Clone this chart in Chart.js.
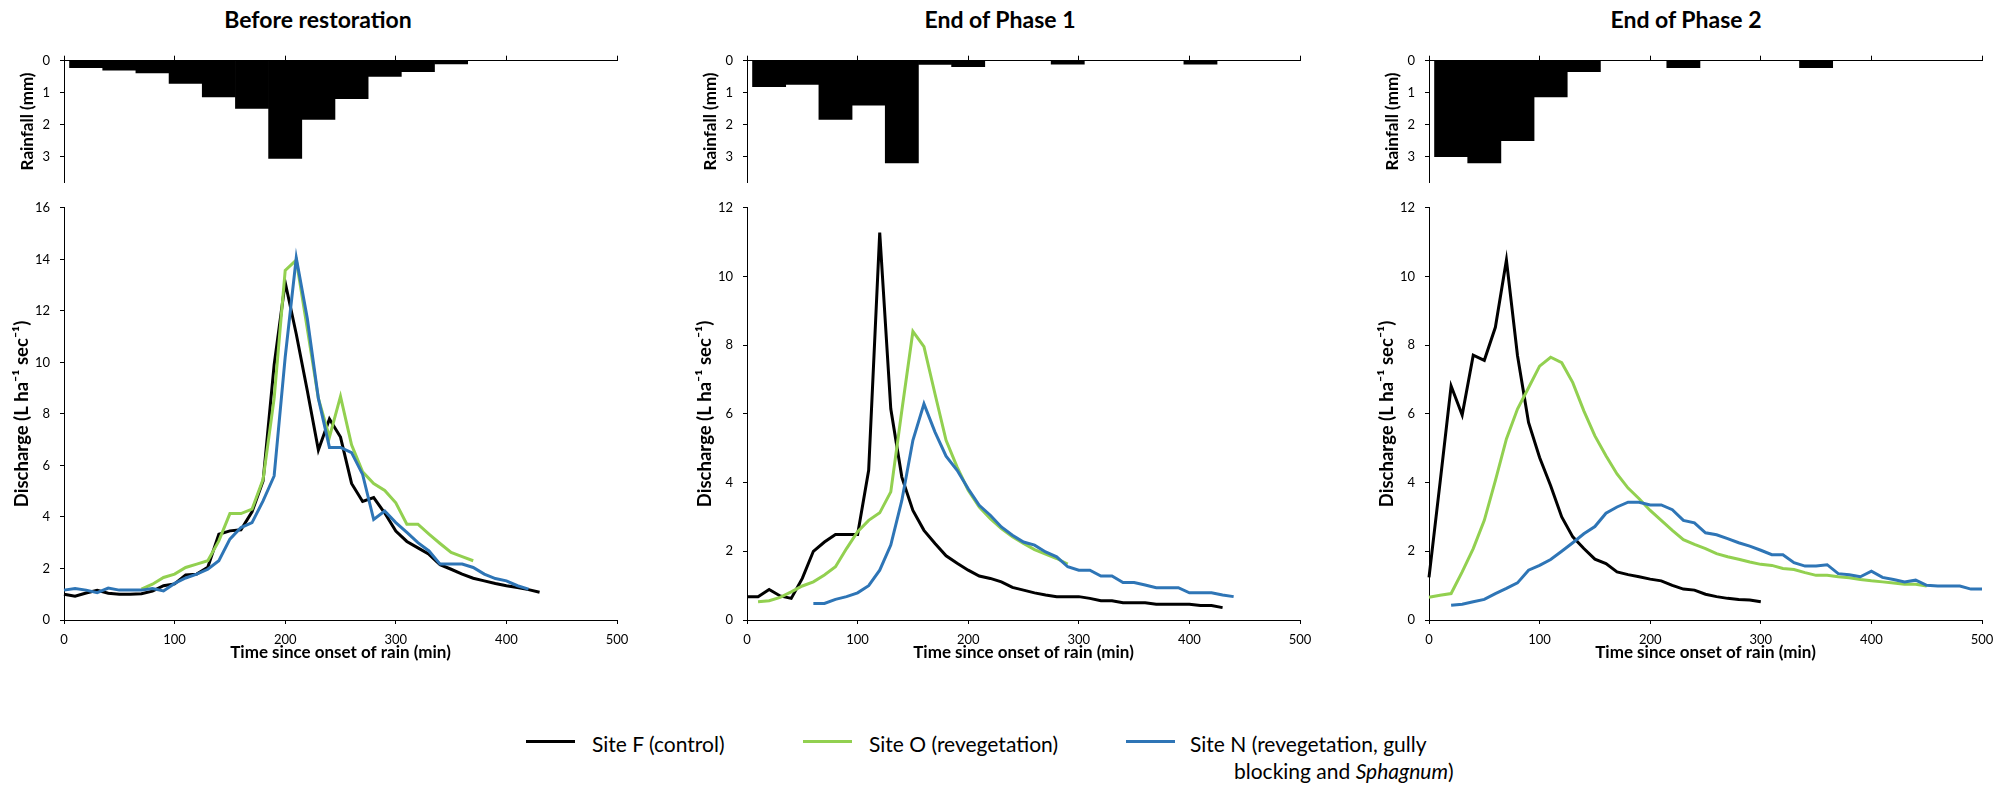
<!DOCTYPE html>
<html>
<head>
<meta charset="utf-8">
<title>Storm hydrographs before and after restoration</title>
<script src="https://cdn.jsdelivr.net/npm/chart.js@4.4.1/dist/chart.umd.min.js"></script>
<style>
  html, body { margin: 0; padding: 0; background: #fff; }
  body { width: 2013px; height: 787px; position: relative; overflow: hidden;
         font-family: Lato, "Open Sans", sans-serif; color: #000; }
  canvas { position: absolute; }
  .panel-title { position: absolute; top: 5px; font-weight: 700; font-size: 23px; line-height: 28px;
                 transform: translateX(-50%); white-space: nowrap; }
  .lg-line { position: absolute; height: 3px; }
  .lg-text { position: absolute; font-size: 21px; line-height: 26px; white-space: nowrap; }
</style>
</head>
<body>

<div class="panel-title" style="left:318px">Before restoration</div>
<div class="panel-title" style="left:1000px">End of Phase 1</div>
<div class="panel-title" style="left:1686px">End of Phase 2</div>

<canvas id="rain1" width="647" height="160" style="left:0px;top:40px"></canvas>
<canvas id="rain2" width="647" height="160" style="left:683px;top:40px"></canvas>
<canvas id="rain3" width="647" height="160" style="left:1365px;top:40px"></canvas>

<canvas id="flow1" width="647" height="480" style="left:0px;top:190px"></canvas>
<canvas id="flow2" width="647" height="480" style="left:683px;top:190px"></canvas>
<canvas id="flow3" width="647" height="480" style="left:1365px;top:190px"></canvas>

<div id="legend"></div>

<script>
// ---- Rainfall per 30-minute interval (mm), bar centres in minutes ----
const rainTimes = [20, 50, 80, 110, 140, 170, 200, 230, 260, 290, 320, 350, 380, 410];
const rainBefore = [0.22, 0.30, 0.38, 0.71, 1.13, 1.49, 3.06, 1.84, 1.19, 0.49, 0.34, 0.10, null, null];
const rainPhase1 = [0.81, 0.74, 1.84, 1.39, 3.20, 0.12, 0.19, null, null, 0.11, null, null, null, 0.11];
const rainPhase2 = [3.00, 3.20, 2.50, 1.13, 0.34, null, null, 0.22, null, null, null, 0.22, null, null];

// ---- Discharge (L ha-1 sec-1) at 10-minute steps ----
const timesBefore = [0,10,20,30,40,50,60,70,80,90,100,110,120,130,140,150,160,170,180,190,200,210,220,230,240,250,260,270,280,290,300,310,320,330,340,350,360,370,380,390,400,410,420,430];
const siteF_before = [1.0,0.92,1.05,1.15,1.04,1.0,1.0,1.02,1.12,1.33,1.4,1.75,1.78,2.05,3.33,3.46,3.5,4.2,5.4,9.9,13.1,11.1,8.9,6.6,7.8,7.1,5.3,4.6,4.75,4.15,3.45,3.05,2.8,2.55,2.15,1.97,1.78,1.62,1.52,1.42,1.33,1.26,1.18,1.08];
const siteO_before = [null,null,null,null,null,null,null,1.2,1.39,1.65,1.78,2.04,2.17,2.3,3.07,4.13,4.13,4.3,5.46,8.6,13.57,13.97,11.3,8.6,7.1,8.68,6.8,5.75,5.3,5.03,4.55,3.72,3.72,3.33,2.97,2.62,2.46,2.3,null,null,null,null,null,null];
const siteN_before = [1.16,1.22,1.16,1.06,1.24,1.16,1.16,1.16,1.22,1.13,1.42,1.63,1.78,1.97,2.3,3.14,3.59,3.78,4.62,5.59,10.2,14.06,11.7,8.6,6.7,6.7,6.5,5.65,3.9,4.23,3.78,3.4,3.0,2.68,2.17,2.17,2.17,2.04,1.78,1.61,1.52,1.33,1.2,null];

const timesPhase1 = [0,10,20,30,40,50,60,70,80,90,100,110,120,130,140,150,160,170,180,190,200,210,220,230,240,250,260,270,280,290,300,310,320,330,340,350,360,370,380,390,400,410,420,430,440];
const siteF_phase1 = [0.68,0.68,0.89,0.70,0.63,1.21,2.0,2.27,2.49,2.49,2.49,4.36,11.28,6.15,4.16,3.19,2.61,2.23,1.87,1.65,1.45,1.28,1.21,1.11,0.95,0.87,0.79,0.73,0.68,0.68,0.68,0.63,0.56,0.56,0.5,0.5,0.5,0.46,0.46,0.46,0.46,0.42,0.42,0.36,null];
const siteO_phase1 = [null,0.53,0.56,0.66,0.82,0.99,1.11,1.31,1.55,2.08,2.57,2.9,3.12,3.73,6.1,8.4,7.96,6.58,5.23,4.45,3.78,3.29,2.95,2.66,2.42,2.23,2.05,1.92,1.79,1.63,null,null,null,null,null,null,null,null,null,null,null,null,null,null,null];
const siteN_phase1 = [null,null,null,null,null,null,0.48,0.48,0.6,0.68,0.79,1.0,1.45,2.18,3.48,5.23,6.29,5.47,4.77,4.36,3.82,3.34,3.05,2.71,2.47,2.27,2.18,1.98,1.84,1.55,1.45,1.45,1.28,1.28,1.09,1.09,1.02,0.94,0.94,0.94,0.79,0.79,0.79,0.73,0.68];

const timesPhase2 = [0,10,20,30,40,50,60,70,80,90,100,110,120,130,140,150,160,170,180,190,200,210,220,230,240,250,260,270,280,290,300,310,320,330,340,350,360,370,380,390,400,410,420,430,440,450,460,470,480,490,500];
const siteF_phase2 = [1.24,4.0,6.81,5.97,7.71,7.56,8.52,10.48,7.7,5.75,4.73,3.91,3.0,2.42,2.08,1.77,1.64,1.4,1.32,1.26,1.19,1.14,1.01,0.9,0.87,0.75,0.68,0.63,0.6,0.58,0.53,null,null,null,null,null,null,null,null,null,null,null,null,null,null,null,null,null,null,null,null];
const siteO_phase2 = [0.66,0.72,0.77,1.4,2.08,2.9,4.06,5.27,6.14,6.76,7.39,7.65,7.49,6.91,6.09,5.36,4.78,4.25,3.84,3.53,3.19,2.9,2.61,2.34,2.2,2.08,1.93,1.84,1.77,1.69,1.62,1.59,1.5,1.47,1.38,1.3,1.3,1.26,1.23,1.18,1.14,1.11,1.08,1.04,1.04,0.99,null,null,null,null,null];
const siteN_phase2 = [null,null,0.43,0.46,0.53,0.6,0.77,0.92,1.08,1.45,1.59,1.76,2.0,2.25,2.51,2.72,3.11,3.29,3.43,3.43,3.35,3.35,3.21,2.9,2.83,2.54,2.48,2.37,2.25,2.15,2.03,1.9,1.9,1.67,1.57,1.57,1.61,1.35,1.32,1.26,1.42,1.24,1.18,1.11,1.16,1.01,0.99,0.99,0.99,0.9,0.9];

// ---- Sites (legend order) ----
const siteNames = ["Site F (control)", "Site O (revegetation)", "Site N (revegetation, gully blocking and Sphagnum)"];
const siteColors = ["#000000", "#92d050", "#2e75b6"];

// ---- Axis text ----
const timeTicks = { min: 0, max: 500, step: 100 };
const rainAxisTitle = "Rainfall (mm)";
const flowAxisTitle = "Discharge (L ha\u207B\u00B9 sec\u207B\u00B9)";
const timeAxisTitle = "Time since onset of rain (min)";

Chart.defaults.font.family = "Lato, 'Open Sans', sans-serif";
Chart.defaults.color = "#000";
Chart.defaults.animation = false;

const AXIS = "#000";
const tickFont = { size: 13 };
const titleFont = { size: 17, weight: "bold" };
const flowTitleFont = { size: 18.5, weight: "bold" };

function pairs(xs, ys) {
  return xs.map((x, i) => ({ x: x, y: ys[i] }));
}

function rainChart(id, values) {
  return new Chart(document.getElementById(id), {
    type: "bar",
    data: {
      datasets: [{
        data: pairs(rainTimes, values),
        backgroundColor: "#000",
        borderWidth: 0,
        barPercentage: 1,
        categoryPercentage: 1
      }]
    },
    options: {
      responsive: false,
      animation: false,
      layout: { padding: { top: 0, right: 30, bottom: 10, left: 0 } },
      plugins: { legend: { display: false }, tooltip: { enabled: false } },
      scales: {
        x: {
          type: "linear", position: "top", min: timeTicks.min, max: timeTicks.max, offset: false,
          ticks: { stepSize: timeTicks.step, display: false },
          grid: { offset: false, drawOnChartArea: false, drawTicks: true, tickLength: 5, color: AXIS },
          border: { color: AXIS, width: 1 },
          afterFit: s => { s.height = 20.7; }
        },
        y: {
          reverse: true, min: 0, max: 3.8,
          ticks: { stepSize: 1, includeBounds: false, padding: 10, font: tickFont },
          grid: { drawOnChartArea: false, tickLength: 4, color: AXIS },
          border: { color: AXIS, width: 1 },
          title: { display: true, text: rainAxisTitle, font: titleFont, padding: { top: 17.8, bottom: 0 } },
          afterFit: s => { s.width = 64; }
        }
      }
    }
  });
}

function flowChart(id, times, seriesValues, yMax) {
  const datasets = seriesValues.map((vals, k) => ({
    label: siteNames[k],
    data: pairs(times, vals),
    borderColor: siteColors[k],
    backgroundColor: siteColors[k],
    borderWidth: 3,
    pointRadius: 0,
    tension: 0,
    fill: false,
    clip: false,
    order: seriesValues.length - k
  }));
  return new Chart(document.getElementById(id), {
    type: "line",
    data: { datasets: datasets },
    options: {
      responsive: false,
      animation: false,
      layout: { padding: { top: 15.7, right: 30, bottom: 0, left: 0 } },
      plugins: { legend: { display: false }, tooltip: { enabled: false } },
      scales: {
        x: {
          type: "linear", min: timeTicks.min, max: timeTicks.max,
          ticks: { stepSize: timeTicks.step, padding: 8, font: tickFont },
          grid: { drawOnChartArea: false, tickLength: 4, color: AXIS },
          border: { color: AXIS, width: 1 },
          title: { display: true, text: timeAxisTitle, font: titleFont, padding: { top: 0, bottom: 6.8 } },
          afterFit: s => { s.height = 50; }
        },
        y: {
          min: 0, max: yMax,
          ticks: { stepSize: 2, padding: 10, font: tickFont },
          grid: { drawOnChartArea: false, tickLength: 4, color: AXIS },
          border: { color: AXIS, width: 1 },
          title: { display: true, text: flowAxisTitle, font: flowTitleFont, padding: { top: 10.9, bottom: 0 } },
          afterFit: s => { s.width = 64; }
        }
      }
    }
  });
}

rainChart("rain1", rainBefore);
rainChart("rain2", rainPhase1);
rainChart("rain3", rainPhase2);

flowChart("flow1", timesBefore, [siteF_before, siteO_before, siteN_before], 16);
flowChart("flow2", timesPhase1, [siteF_phase1, siteO_phase1, siteN_phase1], 12);
flowChart("flow3", timesPhase2, [siteF_phase2, siteO_phase2, siteN_phase2], 12);

// ---- Legend (HTML, shared by the three panels) ----
const legendSlots = [
  { lineX: 526, textX: 592 },
  { lineX: 803, textX: 869 },
  { lineX: 1126, textX: 1190, wrapX: 1234 }
];
const legend = document.getElementById("legend");
siteNames.forEach((name, k) => {
  const slot = legendSlots[k];
  const line = document.createElement("div");
  line.className = "lg-line";
  line.style.left = slot.lineX + "px";
  line.style.top = "740px";
  line.style.width = "49px";
  line.style.background = siteColors[k];
  legend.appendChild(line);

  const txt = document.createElement("div");
  txt.className = "lg-text";
  txt.style.left = slot.textX + "px";
  txt.style.top = "731px";
  if (slot.wrapX) {
    const cut = name.indexOf(" blocking");
    txt.textContent = name.slice(0, cut);
    legend.appendChild(txt);
    const rest = name.slice(cut + 1);
    const txt2 = document.createElement("div");
    txt2.className = "lg-text";
    txt2.style.left = slot.wrapX + "px";
    txt2.style.top = "758px";
    const word = "Sphagnum";
    const at = rest.indexOf(word);
    txt2.appendChild(document.createTextNode(rest.slice(0, at)));
    const it = document.createElement("i");
    it.textContent = word;
    txt2.appendChild(it);
    txt2.appendChild(document.createTextNode(rest.slice(at + word.length)));
    legend.appendChild(txt2);
  } else {
    txt.textContent = name;
    legend.appendChild(txt);
  }
});
</script>
</body>
</html>
